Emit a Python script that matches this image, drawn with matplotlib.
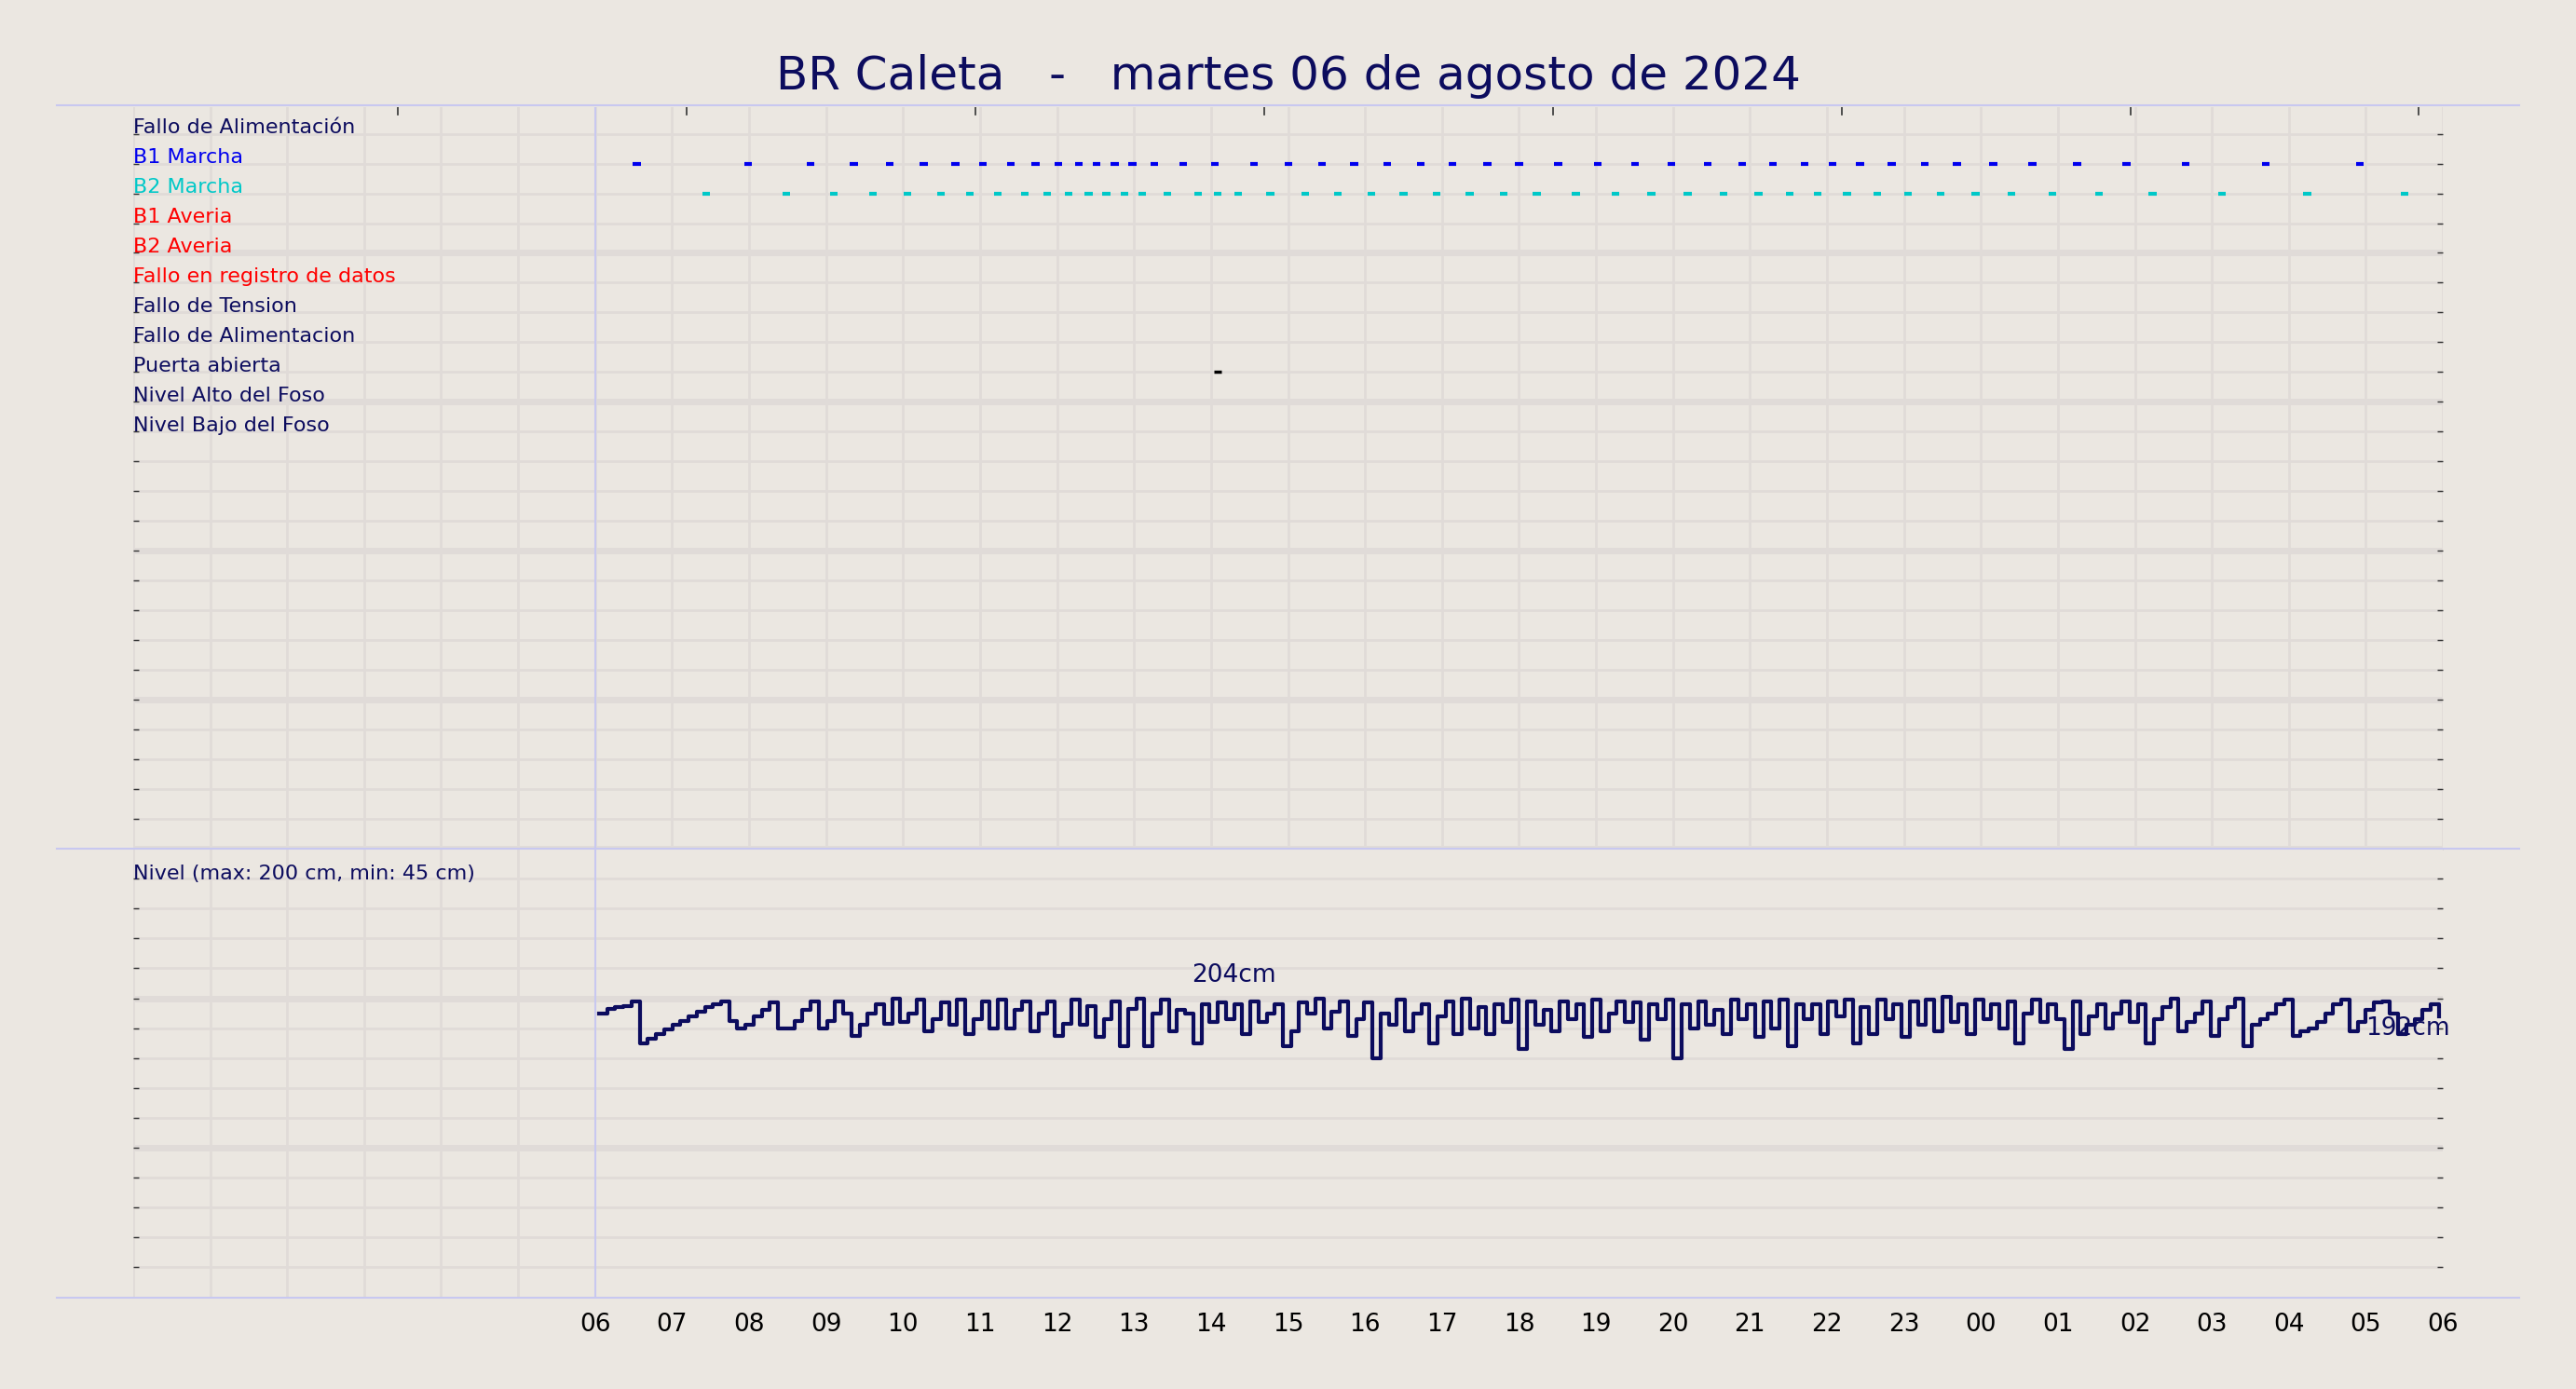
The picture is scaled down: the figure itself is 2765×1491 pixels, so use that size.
import matplotlib.pyplot as plt
import numpy as np

bg = '#ebe7e1'
navy = '#0c0c5e'
lav = '#c8c8f0'
grid_c = '#e0dbd8'

titulo = 'BR Caleta   -   martes 06 de agosto de 2024'
etiquetas = ['Fallo de Alimentación', 'B1 Marcha', 'B2 Marcha', 'B1 Averia', 'B2 Averia',
             'Fallo en registro de datos', 'Fallo de Tension', 'Fallo de Alimentacion',
             'Puerta abierta', 'Nivel Alto del Foso', 'Nivel Bajo del Foso']
colores = [navy, '#0000ee', '#00c8c8', '#ff0000', '#ff0000', '#ff0000',
           navy, navy, navy, navy, navy]
horas = ['06', '07', '08', '09', '10', '11', '12', '13', '14', '15', '16', '17', '18',
         '19', '20', '21', '22', '23', '00', '01', '02', '03', '04', '05', '06']

# horas desde las 06:00
b1_marcha = [0.49, 1.94, 2.75, 3.31, 3.78, 4.22, 4.63, 4.99, 5.35, 5.67, 5.97, 6.23, 6.46,
             6.70, 6.93, 7.21, 7.59, 8.0, 8.51, 8.96, 9.39, 9.81, 10.24, 10.67, 11.09, 11.54,
             11.95, 12.46, 12.97, 13.46, 13.93, 14.4, 14.85, 15.25, 15.66, 16.02, 16.38,
             16.79, 17.22, 17.64, 18.11, 18.62, 19.2, 19.84, 20.61, 21.65, 22.87]
b2_marcha = [1.39, 2.43, 3.05, 3.56, 4.01, 4.44, 4.82, 5.18, 5.53, 5.82, 6.1, 6.36, 6.59,
             6.83, 7.06, 7.38, 7.78, 8.04, 8.3, 8.72, 9.17, 9.6, 10.03, 10.45, 10.88, 11.31,
             11.75, 12.18, 12.69, 13.2, 13.67, 14.14, 14.61, 15.06, 15.47, 15.83, 16.21,
             16.6, 17.0, 17.43, 17.88, 18.35, 18.88, 19.48, 20.18, 21.08, 22.19, 23.45]
puerta = [8.04]

nivel = [190, 193, 194, 195, 198, 170, 173, 176, 179, 182, 185, 188, 191, 194, 196, 198,
         185, 180, 182, 188, 192, 197, 180, 180, 185, 192, 198, 180, 185, 198, 190, 175,
         182, 190, 196, 183, 200, 184, 190, 199, 178, 186, 197, 182, 199, 176, 186, 198,
         180, 199, 180, 192, 198, 178, 190, 198, 175, 183, 199, 182, 195, 174, 186, 198,
         168, 193, 200, 168, 190, 199, 178, 192, 190, 170, 196, 184, 197, 186, 196, 176,
         198, 184, 190, 196, 168, 178, 197, 190, 200, 180, 191, 198, 175, 186, 197, 160,
         190, 182, 199, 178, 190, 196, 170, 188, 198, 176, 200, 180, 194, 176, 196, 184,
         199, 166, 198, 182, 192, 178, 198, 186, 196, 174, 199, 178, 190, 198, 184, 197,
         172, 196, 186, 199, 160, 196, 180, 198, 182, 192, 176, 199, 186, 196, 174, 198,
         180, 199, 168, 196, 186, 196, 176, 198, 188, 199, 170, 194, 176, 199, 186, 196,
         174, 198, 182, 199, 178, 201, 184, 196, 176, 199, 186, 196, 180, 198, 170, 190,
         199, 184, 196, 186, 166, 198, 176, 188, 196, 180, 190, 198, 184, 196, 170, 186,
         194, 200, 178, 184, 190, 198, 175, 186, 194, 200, 168, 182, 186, 190, 196, 199,
         175, 178, 180, 184, 190, 196, 199, 178, 184, 192, 197, 198, 190, 176, 182, 186,
         192, 196, 188]
t_nivel = np.linspace(0.05, 23.95, len(nivel))

fig = plt.figure(figsize=(27.65, 14.91), dpi=100, facecolor=bg)
ax1 = fig.add_axes([0.0517, 0.389, 0.8966, 0.534], facecolor=bg)
ax2 = fig.add_axes([0.0517, 0.066, 0.8966, 0.323], facecolor=bg)

for ax in (ax1, ax2):
    ax.set_xlim(-6, 24)
    ax.set_xticks(np.arange(-6, 25, 1), minor=True)
    ax.grid(True, which='minor', axis='x', color=grid_c, lw=2)
    for s in ax.spines.values():
        s.set_visible(False)
    ax.tick_params(axis='y', direction='in', left=True, right=True, labelleft=False,
                   length=4, width=1, color='#333333')
    ax.axvline(0, color=lav, lw=1.5)

# panel de eventos
ax1.set_ylim(24, -0.9)
ax1.set_yticks(np.arange(0, 25, 1))
for r in range(25):
    ax1.axhline(r, color=grid_c, lw=5 if r % 5 == 4 else 2, zorder=0)
ax1.set_xticks([])
ax1.set_xticks(np.arange(-6, 25, 1), minor=True)
ax1.tick_params(axis='x', which='both', length=0)
for t in np.arange(-2.56, 24, 3.75):
    ax1.plot([t, t], [-0.9, -0.65], color='#333333', lw=1.2)
for i, (e, c) in enumerate(zip(etiquetas, colores)):
    ax1.text(-6, i + 0.12, e, color=c, fontsize=16, va='bottom', ha='left')
for t in b1_marcha:
    ax1.plot([t, t + 0.1], [1, 1], color='#0000ee', lw=3, solid_capstyle='butt')
for t in b2_marcha:
    ax1.plot([t, t + 0.1], [2, 2], color='#00c8c8', lw=3, solid_capstyle='butt')
for t in puerta:
    ax1.plot([t, t + 0.1], [8, 8], color='black', lw=2.5, solid_capstyle='butt')

# panel de nivel
ax2.set_ylim(0, 300)
ax2.set_yticks(np.arange(20, 300, 20))
for v in np.arange(20, 300, 20):
    ax2.axhline(v, color=grid_c, lw=5 if v % 100 == 0 else 2, zorder=0)
ax2.step(t_nivel, nivel, where='post', color=navy, lw=3)
ax2.text(-6, 283, 'Nivel (max: 200 cm, min: 45 cm)', color=navy, fontsize=16, va='center')
ax2.text(8.3, 207, '204cm', color=navy, fontsize=19, va='bottom', ha='center')
ax2.text(23.0, 180, '192cm', color=navy, fontsize=19, va='center', ha='left')
ax2.set_xticks(np.arange(0, 25, 1))
ax2.set_xticklabels(horas, fontsize=19)
ax2.tick_params(axis='x', which='both', length=0, pad=12)

for y in (0.924, 0.389, 0.066):
    fig.add_artist(plt.Line2D([0.022, 0.978], [y, y], color=lav, lw=1.5))

fig.text(0.5, 0.945, titulo, ha='center', va='center', fontsize=36, color=navy)
fig.savefig('out.png', dpi=100, facecolor=bg)
